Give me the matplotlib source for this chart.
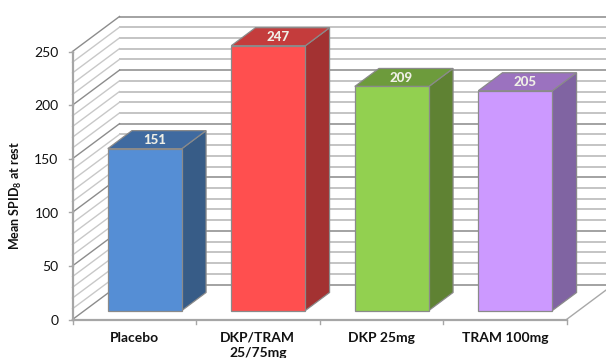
import numpy as np
import matplotlib
matplotlib.use('Agg')
import matplotlib.pyplot as plt
from matplotlib.patches import Polygon

plt.rcParams['font.family'] = ['Lato', 'DejaVu Sans']
plt.rcParams['mathtext.fontset'] = 'custom'
plt.rcParams['mathtext.bf'] = 'Lato:bold'

categories = ['Placebo', 'DKP/TRAM\n25/75mg', 'DKP 25mg', 'TRAM 100mg']
values = [151, 247, 209, 205]
front_colors = ['#558ed5', '#ff4f4f', '#92d050', '#cc99ff']
top_colors = ['#3f6aa0', '#c43c3c', '#6d9b3c', '#9b72bf']
side_colors = ['#375c87', '#a33232', '#5f8233', '#8064a2']
y_ticks = [0, 50, 100, 150, 200, 250]

# pixel scale of the category and value axes
px_per_cat = 123.5
px_per_val = 1.072
x0_px, y0_px = 72.5, 319.5
W, H = 606, 358

# oblique offset of the back wall, in axis units
depth_x = 47 / px_per_cat
depth_y = 35 / px_per_val


def proj(x, y, d):
    return (x + d * depth_x, y + d * depth_y)


fig = plt.figure(figsize=(W / 100, H / 100), dpi=100)
ax = fig.add_axes([0, 0, 1, 1])
ax.set_xlim(-x0_px / px_per_cat, (W - x0_px) / px_per_cat)
ax.set_ylim(-(H - y0_px) / px_per_val, y0_px / px_per_val)
ax.axis('off')

n = len(categories)

# back wall and left wall gridlines
for v in range(0, 251, 10):
    major = v % 50 == 0
    col = '#a2a2a2' if major else '#c4c4c4'
    a = proj(0, v, 1)
    b = proj(n, v, 1)
    c = proj(0, v, 0)
    ax.plot([a[0], b[0]], [a[1], b[1]], color=col, lw=1.4, zorder=1)
    ax.plot([c[0], a[0]], [c[1], a[1]], color='#8c8c8c' if major else '#c8c8c8', lw=1.0, zorder=1)

# floor edge on the right
a = proj(n, 0, 0)
b = proj(n, 0, 1)
ax.plot([a[0], b[0]], [a[1], b[1]], color='#a8a8a8', lw=1.0, zorder=1)

# front axes
ax.plot([0, 0], [0, 250], color='#a6a6a6', lw=1.6, zorder=2)
ax.plot([0, n], [0, 0], color='#a6a6a6', lw=1.6, zorder=2)
for v in y_ticks:
    ax.plot([-4 / px_per_cat, 0], [v, v], color='#a6a6a6', lw=1.0, zorder=2)
    ax.text(-14 / px_per_cat, v - 1.2, str(v), ha='right', va='center', fontsize=10, color='#111111')
for i in range(n + 1):
    ax.plot([i, i], [0, -4 / px_per_val], color='#a6a6a6', lw=1.0, zorder=2)

# bars as three visible faces
bar_w = 0.6
bar_shift = -1.5 / px_per_cat
d0, d1 = 9 / 35, 27 / 35
for i, val in enumerate(values):
    xl = i + 0.5 - bar_w / 2 + bar_shift
    xr = i + 0.5 + bar_w / 2 + bar_shift
    front = [proj(xl, 0, d0), proj(xr, 0, d0), proj(xr, val, d0), proj(xl, val, d0)]
    side = [proj(xr, 0, d0), proj(xr, 0, d1), proj(xr, val, d1), proj(xr, val, d0)]
    top = [proj(xl, val, d0), proj(xr, val, d0), proj(xr, val, d1), proj(xl, val, d1)]
    for pts, col in ((side, side_colors[i]), (top, top_colors[i]), (front, front_colors[i])):
        ax.add_patch(Polygon(pts, closed=True, facecolor=col, edgecolor='#8a8a8a', lw=0.9, zorder=3))
    lx, ly = proj(i + 0.5, val, (d0 + d1) / 2)
    ax.text(lx - 4 / px_per_cat, ly - 0.5, str(val), ha='center', va='center', fontsize=9.5, fontweight='black',
            color='#efefe6', zorder=4)
    # category labels hang from the same first line
    ax.text(i + 0.5, -(331.5 - y0_px) / px_per_val, categories[i], ha='center', va='top',
            fontsize=10, fontweight='bold', color='#111111', linespacing=1.38, zorder=4)

ax.text(-56.5 / px_per_cat, 116, r'Mean SPID$_{\mathbf{8}}$ at rest', rotation=90, ha='center', va='center',
        fontsize=9, fontweight='bold', color='#111111')

fig.savefig('out.png', dpi=100)
